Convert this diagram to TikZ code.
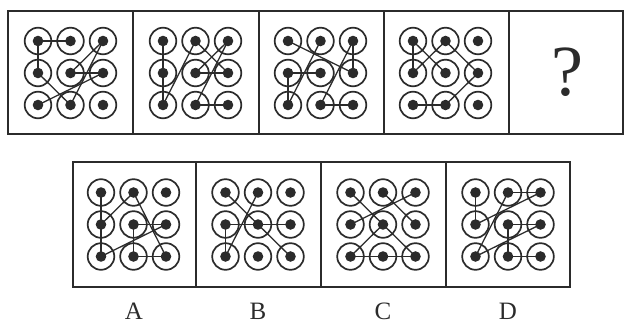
\documentclass[tikz,border=0pt]{standalone}
\usepackage{fontspec}
\setmainfont{Liberation Serif}
\usepackage{tikz}
\usetikzlibrary{positioning,calc}
\definecolor{ink}{HTML}{2B2B2B}
% nine rings of one panel, named #1-cr (column, row)
\newcommand{\lockgrid}[3]{%
	\foreach \c in {1,2,3}
		\foreach \r in {1,2,3}
			\node[ring] (#1-\c\r) at ({#2+(\c-2)*32.5pt},{#3-(\r-2)*32pt}) {};
}
\newcommand{\locklinks}[2]{%
	\foreach \a/\b in {#2}
		\draw[link] (#1-\a.center) -- (#1-\b.center);
}

\begin{document}
\begin{tikzpicture}[x=1pt,y=1pt]
	\tikzset{
		ring/.style={circle,draw=ink,line width=1.7pt,minimum size=26.6pt,inner sep=0pt,
			path picture={\fill[ink] (path picture bounding box.center) circle (5.3pt);}},
		link/.style={draw=ink,line width=1.3pt},
		frame/.style={draw=ink,line width=1.8pt},
		letter/.style={font=\fontsize{25}{25}\selectfont,text=ink}
	}
	\useasboundingbox (0,0) rectangle (626,324);

	% frames
	\draw[frame] (8,190) rectangle (623,313);
	\foreach \x in {133,259,384,509}
		\draw[frame] (\x,190) -- (\x,313);
	\draw[frame] (73,37) rectangle (570,162);
	\foreach \x in {196,321,446}
		\draw[frame] (\x,37) -- (\x,162);

	% top row
	\lockgrid{t1}{70.5}{251}
	\lockgrid{t2}{195.5}{251}
	\lockgrid{t3}{320.5}{251}
	\lockgrid{t4}{445.5}{251}
	\locklinks{t1}{21/11,11/12,12/23,23/31,31/22,22/32,32/13}
	\locklinks{t2}{11/12,12/13,13/21,21/32,32/22,22/31,31/23,23/33}
	\locklinks{t3}{11/32,32/31,31/23,23/33,21/13,13/12,12/22}
	\locklinks{t4}{22/11,11/12,12/21,21/32,32/23,23/13}
	\node[font=\fontsize{72}{72}\selectfont,text=ink] (ask) at (567,252) {?};

	% options
	\lockgrid{A}{133.5}{99.5}
	\lockgrid{B}{258}{99.5}
	\lockgrid{C}{383}{99.5}
	\lockgrid{D}{508}{99.5}
	\locklinks{A}{11/12,12/13,12/21,21/33,33/23,23/22,22/32,32/13}
	\locklinks{B}{11/22,22/33,12/22,22/32,12/13,13/21}
	\locklinks{C}{11/22,22/33,21/32,31/12,13/22,13/23,23/33}
	\locklinks{D}{11/12,12/31,31/21,21/13,13/32,32/22,22/23,23/33}

	\node[letter] (la) at (134,13) {A};
	\node[letter] (lb) at (258,13) {B};
	\node[letter] (lc) at (383,13) {C};
	\node[letter] (ld) at (508,13) {D};
\end{tikzpicture}
\end{document}
